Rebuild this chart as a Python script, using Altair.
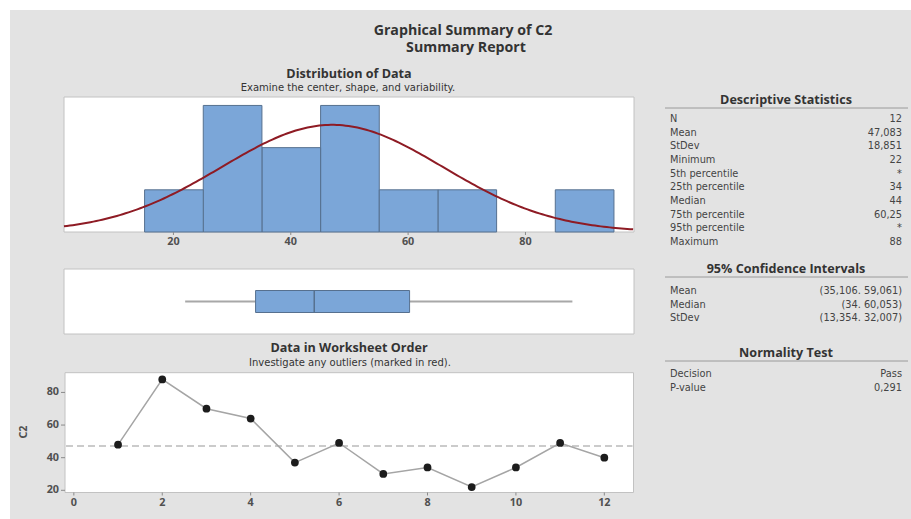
import altair as alt
import pandas as pd

# ---- worksheet column C2 (in worksheet order) ----
C2 = [48, 88, 70, 64, 37, 49, 30, 34, 22, 34, 49, 40]

# ---- summary statistics of C2 ----
N = 12
MEAN = 47.083
STDEV = 18.851
MINIMUM = 22
Q1 = 34
MEDIAN = 44
Q3 = 60.25
MAXIMUM = 88

DESC_LABELS = ["N", "Mean", "StDev", "Minimum", "5th percentile", "25th percentile",
               "Median", "75th percentile", "95th percentile", "Maximum"]
DESC_VALUES = ["12", "47,083", "18,851", "22", "*", "34", "44", "60,25", "*", "88"]
CI_LABELS = ["Mean", "Median", "StDev"]
CI_VALUES = ["(35,106. 59,061)", "(34. 60,053)", "(13,354. 32,007)"]
NORM_LABELS = ["Decision", "P-value"]
NORM_VALUES = ["Pass", "0,291"]

# ---- axis ticks and histogram binning ----
HIST_BIN_EXTENT = [15, 95]
HIST_BIN_STEP = 10
HIST_TICKS = [20, 40, 60, 80]
ORDER_X_TICKS = [0, 2, 4, 6, 8, 10, 12]
ORDER_Y_TICKS = [20, 40, 60, 80]

# ---- styling ----
FONT = "Open Sans"
SMALL_FONT = "DejaVu Sans"
W, H = 911, 519
BG = "#e3e3e3"
BAR_FILL = "#7ba6d8"
BAR_EDGE = "#56708f"
FRAME = "#c2c2c2"
TEXT = "#333333"
AXIS_TEXT = "#505050"
TICK = "#8a8a8a"

# panel placement in pixels
PX0, PX1 = 64, 634            # left / right edge of the distribution panels
HY_TOP, HY_BOT = 97, 232      # histogram panel
BY_TOP, BY_BOT = 269, 334     # boxplot panel
OX0, OX1 = 65, 633.5          # worksheet-order panel
OY_TOP, OY_BOT = 372.7, 492.5

one = pd.DataFrame({"k": [0]})


def deco_rect(x0, x1, y0, y1, **style):
    return alt.Chart(one).mark_rect(**style).encode(
        x=alt.value(x0), x2=alt.value(x1), y=alt.value(y0), y2=alt.value(y1))


def label(text, x, y, size, weight="normal", font=FONT, color=TEXT, angle=0):
    return alt.Chart(one).mark_text(
        text=text, font=font, fontSize=size, fontWeight=weight, angle=angle,
        align="center", baseline="middle", color=color,
    ).encode(x=alt.value(x), y=alt.value(y))


def hrule(x0, x1, y, color="#9a9a9a"):
    return alt.Chart(one).mark_rule(color=color, strokeWidth=1).encode(
        x=alt.value(x0), x2=alt.value(x1), y=alt.value(y))


tick_label_style = dict(font=FONT, fontSize=10.8, fontWeight="bold", color=AXIS_TEXT)


def x_ticks(values, scale, y_axis):
    """Tick marks and labels under a panel, placed through the panel's x scale."""
    df = pd.DataFrame({"t": values})
    x = alt.X("t:Q", scale=scale, axis=None)
    marks = alt.Chart(df).mark_rule(color=TICK, strokeWidth=1).encode(
        x=x, y=alt.value(y_axis), y2=alt.value(y_axis + 3))
    text = alt.Chart(df).mark_text(baseline="top", align="center", **tick_label_style).encode(
        x=x, y=alt.value(y_axis + 4), text="t:Q")
    return [marks, text]


def y_ticks(values, scale, x_axis):
    """Tick marks and labels left of a panel, placed through the panel's y scale."""
    df = pd.DataFrame({"t": values})
    y = alt.Y("t:Q", scale=scale, axis=None)
    marks = alt.Chart(df).mark_rule(color=TICK, strokeWidth=1).encode(
        y=y, x=alt.value(x_axis - 4), x2=alt.value(x_axis))
    text = alt.Chart(df).mark_text(baseline="middle", align="right", **tick_label_style).encode(
        y=y, x=alt.value(x_axis - 6), text="t:Q")
    return [marks, text]


# ---- background and panel frames ----
background = deco_rect(10, W, 10, H, fill=BG)
frames = alt.layer(
    deco_rect(PX0, PX1, HY_TOP, HY_BOT, fill="white", stroke=FRAME, strokeWidth=1),
    deco_rect(PX0, PX1, BY_TOP, BY_BOT, fill="white", stroke=FRAME, strokeWidth=1),
    deco_rect(OX0, OX1, OY_TOP, OY_BOT, fill="white", stroke=FRAME, strokeWidth=1),
)

# ---- histogram with fitted normal curve, and boxplot (shared x) ----
dist_x = alt.Scale(domain=[1.35, 98.5], range=[PX0, PX1], nice=False, zero=False)
dist_y = alt.Scale(domain=[0, 3.2], range=[HY_BOT, HY_TOP], nice=False, zero=False)

c2_df = pd.DataFrame({"C2": C2})
bars = alt.Chart(c2_df).mark_bar(
    binSpacing=0, fill=BAR_FILL, stroke=BAR_EDGE, strokeWidth=1,
).encode(
    x=alt.X("C2:Q",
            bin=alt.Bin(extent=HIST_BIN_EXTENT, step=HIST_BIN_STEP,
                        anchor=HIST_BIN_EXTENT[0], nice=False),
            scale=dist_x, axis=None),
    y=alt.Y("count():Q", scale=dist_y, axis=None),
)

normal_curve = alt.Chart(alt.sequence(1.35, 98.55, 0.5, as_="v")).transform_calculate(
    dens=f"{N * HIST_BIN_STEP} * exp(-0.5 * pow((datum.v - {MEAN}) / {STDEV}, 2))"
         f" / ({STDEV} * sqrt(2 * PI))"
).mark_line(color="#8e1b24", strokeWidth=2).encode(
    x=alt.X("v:Q", scale=dist_x, axis=None),
    y=alt.Y("dens:Q", scale=dist_y, axis=None),
)

box_df = pd.DataFrame({"lo": [MINIMUM], "q1": [Q1], "med": [MEDIAN], "q3": [Q3], "hi": [MAXIMUM]})
whisker_style = dict(color="#a8a8a8", strokeWidth=2)
BOX_MID = (BY_TOP + BY_BOT) / 2
whisker_lo = alt.Chart(box_df).mark_rule(**whisker_style).encode(
    x=alt.X("lo:Q", scale=dist_x, axis=None), x2="q1:Q", y=alt.value(BOX_MID))
whisker_hi = alt.Chart(box_df).mark_rule(**whisker_style).encode(
    x=alt.X("q3:Q", scale=dist_x, axis=None), x2="hi:Q", y=alt.value(BOX_MID))
box = alt.Chart(box_df).mark_rect(fill=BAR_FILL, stroke=BAR_EDGE, strokeWidth=1).encode(
    x=alt.X("q1:Q", scale=dist_x, axis=None), x2="q3:Q",
    y=alt.value(BOX_MID - 11), y2=alt.value(BOX_MID + 11))
median_line = alt.Chart(box_df).mark_rule(color=BAR_EDGE, strokeWidth=1.5).encode(
    x=alt.X("med:Q", scale=dist_x, axis=None),
    y=alt.value(BOX_MID - 11), y2=alt.value(BOX_MID + 11))

distribution = alt.layer(bars, normal_curve, whisker_lo, whisker_hi, box, median_line,
                         *x_ticks(HIST_TICKS, dist_x, HY_BOT))

# ---- data in worksheet order ----
order_x = alt.Scale(domain=[-0.2, 12.66], range=[OX0, OX1], nice=False, zero=False)
order_y = alt.Scale(domain=[18.65, 92.1], range=[OY_BOT, OY_TOP], nice=False, zero=False)
order_df = pd.DataFrame({"obs": list(range(1, len(C2) + 1)), "C2": C2})

mean_line = alt.Chart(pd.DataFrame({"mean": [MEAN]})).mark_rule(
    color="#cbcbcb", strokeWidth=2, strokeDash=[7, 4],
).encode(
    x=alt.value(OX0 + 1), x2=alt.value(OX1 - 1),
    y=alt.Y("mean:Q", scale=order_y, axis=None),
)
trace = alt.Chart(order_df).mark_line(color="#a5a5a5", strokeWidth=1.5).encode(
    x=alt.X("obs:Q", scale=order_x, axis=None),
    y=alt.Y("C2:Q", scale=order_y, axis=None),
)
points = alt.Chart(order_df).mark_circle(size=60, color="#1c1c1c", opacity=1).encode(
    x=alt.X("obs:Q", scale=order_x, axis=None),
    y=alt.Y("C2:Q", scale=order_y, axis=None),
)
worksheet = alt.layer(
    mean_line, trace, points,
    *x_ticks(ORDER_X_TICKS, order_x, OY_BOT),
    *y_ticks(ORDER_Y_TICKS, order_y, OX0),
)


# ---- statistics tables ----
def stat_table(labels, values, y_first, y_last):
    df = pd.DataFrame({"label": labels, "value": values, "row": list(range(len(labels)))})
    y = alt.Y("row:Q", scale=alt.Scale(domain=[0, len(labels) - 1], range=[y_first, y_last],
                                        nice=False, zero=False), axis=None)
    base = alt.Chart(df)
    style = dict(baseline="middle", font=SMALL_FONT, fontSize=9.8, color="#444444")
    left = base.mark_text(align="left", **style).encode(x=alt.value(670), y=y, text="label:N")
    right = base.mark_text(align="right", **style).encode(x=alt.value(902), y=y, text="value:N")
    return alt.layer(left, right)


desc_table = stat_table(DESC_LABELS, DESC_VALUES, 119, 242)
ci_table = stat_table(CI_LABELS, CI_VALUES, 291, 318)
norm_table = stat_table(NORM_LABELS, NORM_VALUES, 374, 387.5)

texts = alt.layer(
    label("Graphical Summary of C2", 463, 30.5, 14.2, "bold"),
    label("Summary Report", 466, 48, 14.2, "bold"),
    label("Distribution of Data", 349, 74, 12.6, "bold"),
    label("Examine the center, shape, and variability.", 348, 88, 10, font=SMALL_FONT),
    label("Data in Worksheet Order", 349, 348, 12.6, "bold"),
    label("Investigate any outliers (marked in red).", 350, 363, 10, font=SMALL_FONT),
    label("Descriptive Statistics", 786, 100, 12.6, "bold"),
    label("95% Confidence Intervals", 786, 269, 12.6, "bold"),
    label("Normality Test", 786, 353, 12.6, "bold"),
    label("C2", 24, 432, 10.8, "bold", color=AXIS_TEXT, angle=270),
    hrule(665, 908, 108),
    hrule(665, 908, 277),
    hrule(665, 908, 361),
)

chart = alt.layer(
    background, frames, distribution, worksheet, desc_table, ci_table, norm_table, texts,
).resolve_scale(
    x="independent", y="independent",
).properties(
    width=W, height=H, padding=0, background="white",
    autosize=alt.AutoSizeParams(type="none"),
).configure_view(stroke=None)

chart.save("out.html", embed_options={"renderer": "svg", "actions": False})
